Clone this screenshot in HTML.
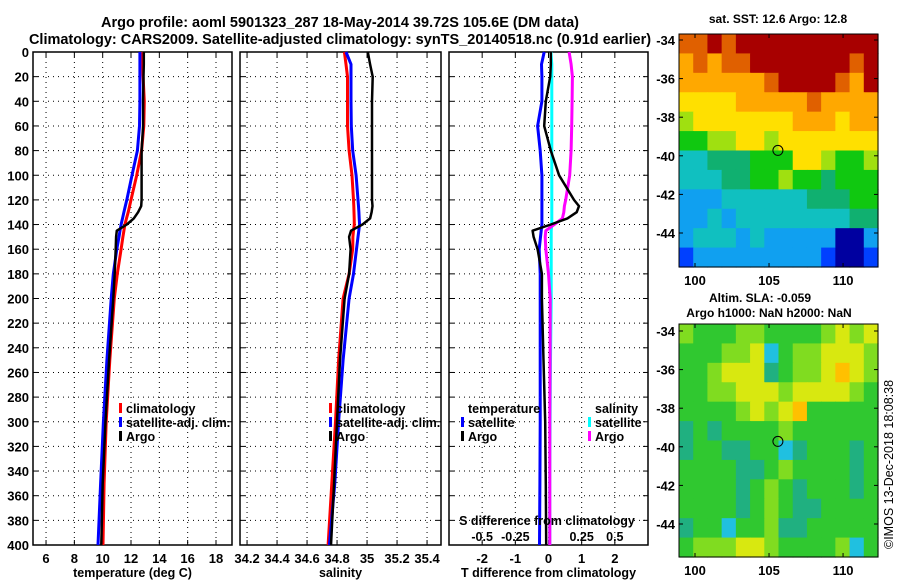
<!DOCTYPE html>
<html><head><meta charset="utf-8">
<style>
html,body{margin:0;padding:0;background:#fff;}
svg{display:block;font-family:"Liberation Sans",sans-serif;font-weight:bold;}
</style></head>
<body>
<svg id="chart" width="900" height="580" viewBox="0 0 900 580">
<text x="340" y="27" font-size="14.5" text-anchor="middle">Argo profile: aoml 5901323_287 18-May-2014 39.72S 105.6E (DM data)</text>
<text x="340" y="44" font-size="14.5" text-anchor="middle">Climatology: CARS2009. Satellite-adjusted climatology: synTS_20140518.nc (0.91d earlier)</text>
<text x="778" y="23" font-size="12" text-anchor="middle">sat. SST: 12.6 Argo: 12.8</text>
<text x="760" y="302" font-size="12" text-anchor="middle">Altim. SLA: -0.059</text>
<text x="769" y="317" font-size="12" text-anchor="middle">Argo h1000: NaN h2000: NaN</text>
<text transform="translate(893,549) rotate(-90)" font-size="12.5" font-weight="normal">©IMOS 13-Dec-2018 18:08:38</text>
</svg>
<script>
// ---- data ----
const depths = [0,10,20,40,60,80,100,120,125,130,135,140,145,150,160,180,200,250,300,350,400];
const tempClim = [12.75,12.8,12.85,12.94,12.9,12.75,12.4,12.0,11.9,11.8,11.68,11.57,11.5,11.43,11.3,11.03,10.82,10.5,10.25,10.1,10.02];
const tempSat = [12.63,12.63,12.63,12.63,12.6,12.45,12.07,11.7,11.6,11.5,11.4,11.3,11.22,11.15,11.0,10.75,10.6,10.3,10.05,9.85,9.67];
const tempArgo = [12.9,12.9,12.88,12.85,12.85,12.75,12.75,12.75,12.72,12.5,12.2,11.7,11.0,10.95,10.92,10.85,10.75,10.45,10.2,10.0,9.9];
const salClim = [34.849,34.86,34.87,34.87,34.87,34.88,34.9,34.91,34.912,34.913,34.914,34.915,34.91,34.906,34.904,34.88,34.84,34.81,34.79,34.765,34.74];
const salSat = [34.86,34.893,34.893,34.893,34.895,34.904,34.927,34.94,34.943,34.946,34.948,34.95,34.945,34.94,34.93,34.91,34.88,34.84,34.81,34.785,34.749];
const salArgo = [35.005,35.02,35.038,35.033,35.033,35.033,35.033,35.033,35.036,35.03,35.02,34.97,34.893,34.88,34.89,34.88,34.85,34.82,34.8,34.78,34.76];
const tDiffSat = [-0.13,-0.21,-0.2,-0.2,-0.33,-0.25,-0.2,-0.2,-0.2,-0.2,-0.2,-0.2,-0.22,-0.24,-0.28,-0.25,-0.25,-0.25,-0.25,-0.26,-0.27];
const tDiffArgo = [0.07,0.07,0.05,-0.08,-0.13,0.07,0.32,0.77,0.92,0.85,0.57,0.07,-0.48,-0.45,-0.33,-0.2,-0.2,-0.15,-0.1,-0.08,-0.07];
const sDiffSat = [0.018,0.025,0.025,0.025,0.025,0.025,0.025,0.025,0.025,0.025,0.025,0.025,0.02,0.02,0.02,0.02,0.02,0.015,0.012,0.01,0.01];
const sDiffArgo = [0.155,0.17,0.18,0.178,0.175,0.17,0.16,0.13,0.12,0.115,0.105,0.043,-0.02,-0.025,-0.02,0.0,0.013,0.012,0.01,0.01,0.01];
const depthTicks = [0,20,40,60,80,100,120,140,160,180,200,220,240,260,280,300,320,340,360,380,400];
const tempTicks = [6,8,10,12,14,16,18];
const salTicks = [34.2,34.4,34.6,34.8,35,35.2,35.4];
const salTickLabels = ["34.2","34.4","34.6","34.8","35","35.2","35.4"];
const tDiffTicks = [-2,-1,0,1,2];
const sDiffTicks = [-0.5,-0.25,0,0.25,0.5];
const sDiffTickLabels = ["-0.5","-0.25","0","0.25","0.5"];
const mapLonTicks = [100,105,110];
const mapLatTicks = [-34,-36,-38,-40,-42,-44];
const sstGrid = [
"99A9AAAAAAAAAA",
"89899AAAAAAA9A",
"8888889AAAA98A",
"77778888898888",
"67777777888788",
"55667767777777",
"33444555776556",
"33344556554555",
"22233333344455",
"22323333333344",
"23332322222002",
"12222222221001"];
const slaGrid = [
"65556655556767",
"55566735667776",
"55677745667876",
"55667776777765",
"55556767855555",
"45455556555555",
"45544553455545",
"55554456555545",
"55554565455545",
"55554565445555",
"45535564455555",
"56667765555635"];
const argoLon = 105.6, argoLat = -39.72;

// ---- rendering ----
const NS = "http://www.w3.org/2000/svg";
const svg = document.getElementById('chart');
function mk(tag, attrs, parent){const e=document.createElementNS(NS,tag);for(const k in attrs)e.setAttribute(k,attrs[k]);(parent||svg).appendChild(e);return e;}
const Y0=52, Y1=545;
const yD = d => Y0 + (d/400)*(Y1-Y0);

function panel(name, x0, x1, xmin, xmax, xticks, xlabels, xtitle, showY){
  const g = mk('g',{});
  
  
  const sx = v => x0 + (v-xmin)/(xmax-xmin)*(x1-x0);
  depthTicks.forEach(d=>{
    const y=yD(d);
    if(d>0&&d<400){const l=mk('line',{x1:x0,x2:x1,y1:y,y2:y,stroke:'#000','stroke-width':1,'stroke-dasharray':'1,4'},g);
      }
    mk('line',{x1:x0,x2:x0+5,y1:y,y2:y,stroke:'#000','stroke-width':1},g);
    mk('line',{x1:x1-5,x2:x1,y1:y,y2:y,stroke:'#000','stroke-width':1},g);
    if(showY){const t=mk('text',{x:x0-4,y:y+5,'font-size':13,'text-anchor':'end'},g);t.textContent=d;
      }
  });
  xticks.forEach((v,i)=>{
    const x=sx(v);
    const l=mk('line',{x1:x,x2:x,y1:Y0,y2:Y1,stroke:'#000','stroke-width':1,'stroke-dasharray':'1,4'},g);
    
    mk('line',{x1:x,x2:x,y1:Y1-5,y2:Y1,stroke:'#000','stroke-width':1},g);
    mk('line',{x1:x,x2:x,y1:Y0,y2:Y0+5,stroke:'#000','stroke-width':1},g);
    const t=mk('text',{x:x,y:563,'font-size':13,'text-anchor':'middle'},g);t.textContent=xlabels[i];
    
  });
  const r=mk('rect',{x:x0,y:Y0,width:x1-x0,height:Y1-Y0,fill:'none',stroke:'#000','stroke-width':1.5},g);
  
  const tt=mk('text',{x:(x0+x1)/2,y:577,'font-size':12.5,'text-anchor':'middle'},g);tt.textContent=xtitle;
  
  return {g,sx};
}
function series(p, vals, color, w, name){
  const pts = vals.map((v,i)=>p.sx(v).toFixed(1)+','+yD(depths[i]).toFixed(1)).join(' ');
  const pl = mk('polyline',{points:pts,fill:'none',stroke:color,'stroke-width':w,'stroke-linejoin':'round'},p.g);
  
  
}
function legend(p, x, y, color, label, name){
  if(color){const s=mk('rect',{x:x,y:y-9,width:3,height:10,fill:color},p.g);
    }
  const t=mk('text',{x:x+7,y:y+1,'font-size':12.5},p.g);t.textContent=label;
  
  
}

// Panel 1 temperature
const p1 = panel('temperature-panel',33,232,5.08,19.13,tempTicks,tempTicks.map(String),'temperature (deg C)',true);
series(p1,tempClim,'#f00',3,'temp-climatology-line');
series(p1,tempSat,'#00f',3,'temp-satellite-line');
series(p1,tempArgo,'#000',2.5,'temp-argo-line');
legend(p1,119,412,'#f00','climatology','legend-climatology');
legend(p1,119,426,'#00f','satellite-adj. clim.','legend-satellite');
legend(p1,119,440,'#000','Argo','legend-argo');

// Panel 2 salinity
const p2 = panel('salinity-panel',240,441,34.153,35.493,salTicks,salTickLabels,'salinity',false);
series(p2,salClim,'#f00',3,'sal-climatology-line');
series(p2,salSat,'#00f',3,'sal-satellite-line');
series(p2,salArgo,'#000',2.5,'sal-argo-line');
legend(p2,329,412,'#f00','climatology','legend-climatology');
legend(p2,329,426,'#00f','satellite-adj. clim.','legend-satellite');
legend(p2,329,440,'#000','Argo','legend-argo');

// Panel 3 differences
const p3 = panel('difference-panel',449,648,-3,3,tDiffTicks,tDiffTicks.map(String),'T difference from climatology',false);
const p3s = {g:p3.g, sx: v => 449 + (v+0.75)/1.5*(648-449)};
series(p3,tDiffSat,'#00f',3,'tdiff-satellite-line');
series(p3s,sDiffSat,'#0ff',3,'sdiff-satellite-line');
series(p3s,sDiffArgo,'#f0f',3,'sdiff-argo-line');
series(p3,tDiffArgo,'#000',2.5,'tdiff-argo-line');
legend(p3,461,412,null,'temperature','legend-temperature-header');
legend(p3,461,426,'#00f','satellite','legend-t-satellite');
legend(p3,461,440,'#000','Argo','legend-t-argo');
legend(p3,588,412,null,'salinity','legend-salinity-header');
legend(p3,588,426,'#0ff','satellite','legend-s-satellite');
legend(p3,588,440,'#f0f','Argo','legend-s-argo');
{const t=mk('text',{x:547,y:525,'font-size':12.5,'text-anchor':'middle'},p3.g);t.textContent='S difference from climatology';
 }
sDiffTicks.forEach((v,i)=>{ if(v===0) return;
  const t=mk('text',{x:p3s.sx(v),y:541,'font-size':12.5,'text-anchor':'middle'},p3.g);t.textContent=sDiffTickLabels[i];
  });

// Maps
const sstColors = {'0':'#0000a0','1':'#0040ff','2':'#10a0f0','3':'#10c0c0','4':'#10b070','5':'#10c810','6':'#a0e010','7':'#ffe000','8':'#ffa800','9':'#e06000','A':'#a80000'};
const slaColors = {'3':'#20c0e0','4':'#20b080','5':'#30c830','6':'#80dc20','7':'#d8e810','8':'#ffc000'};
function drawMap(name, x0, x1, yTop, yBot, latTopPx, grid, colors){
  const g = mk('g',{});
  
  
  const lonMin=98.92, lonMax=112.36;
  const sx = lon => x0 + (lon-lonMin)/(lonMax-lonMin)*(x1-x0);
  const pxPerLat = 19.3;
  const sy = lat => latTopPx + (-34-lat)*pxPerLat;
  const rows=grid.length, cols=grid[0].length;
  const cw=(x1-x0)/cols, ch=(yBot-yTop)/rows;
  grid.forEach((row,r)=>{ for(let c=0;c<cols;c++){
    const cell=mk('rect',{x:x0+c*cw,y:yTop+r*ch,width:cw+0.6,height:ch+0.6,fill:colors[row[c]]},g);
    
    
  }});
  const fr=mk('rect',{x:x0,y:yTop,width:x1-x0,height:yBot-yTop,fill:'none',stroke:'#000','stroke-width':1},g);
  
  mapLonTicks.forEach(v=>{const x=sx(v);
    mk('line',{x1:x,x2:x,y1:yBot,y2:yBot-4,stroke:'#000'},g);mk('line',{x1:x,x2:x,y1:yTop,y2:yTop+4,stroke:'#000'},g);
    const t=mk('text',{x:x,y:yBot+18,'font-size':13,'text-anchor':'middle'},g);t.textContent=v;
    });
  mapLatTicks.forEach(v=>{const y=sy(v);
    mk('line',{x1:x0,x2:x0+4,y1:y,y2:y,stroke:'#000'},g);mk('line',{x1:x1,x2:x1-4,y1:y,y2:y,stroke:'#000'},g);
    const t=mk('text',{x:x0-4,y:y+5,'font-size':13,'text-anchor':'end'},g);t.textContent=v;
    });
  const m=mk('circle',{cx:sx(argoLon),cy:sy(argoLat),r:5,fill:'none',stroke:'#000','stroke-width':1},g);
  
}
drawMap('sst-map',679,878,34,267,40,sstGrid,sstColors);
drawMap('sla-map',679,878,324,557,331,slaGrid,slaColors);
</script>
</body></html>
